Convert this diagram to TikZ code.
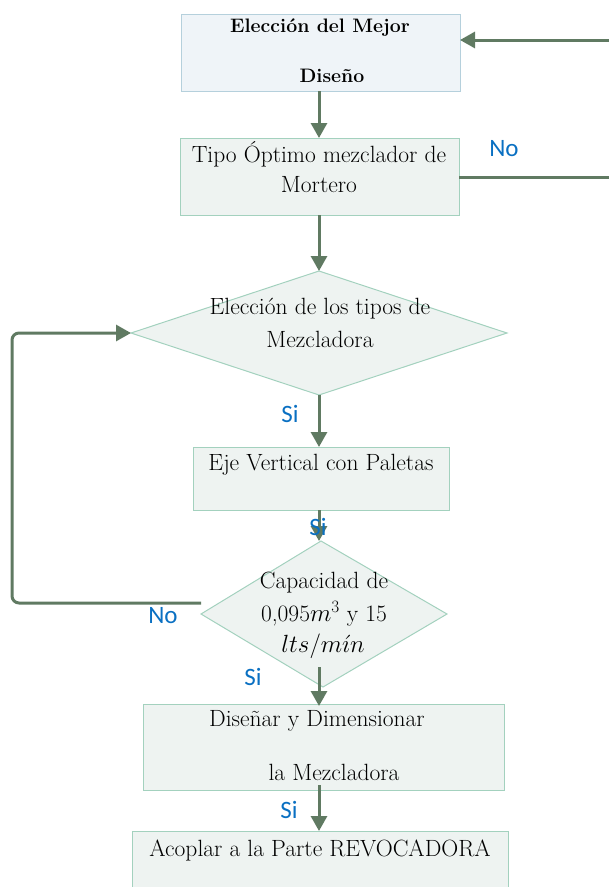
\documentclass[tikz,border=0pt]{standalone}
\usepackage{fontspec}
\newfontfamily\lblfont{Carlito}
\usetikzlibrary{arrows.meta}
\definecolor{conn}{HTML}{607A62}
\definecolor{gfill}{HTML}{EEF3F1}
\definecolor{gdraw}{HTML}{A3D1BE}
\definecolor{bfill}{HTML}{EFF4F8}
\definecolor{bdraw}{HTML}{B5D0DC}
\definecolor{lblblue}{HTML}{0A70C2}
\tikzset{
  boxg/.style={draw=gdraw, fill=gfill, line width=1pt},
  boxb/.style={draw=bdraw, fill=bfill, line width=1pt},
  txt/.style={inner sep=0pt, font=\fontsize{23.5}{27}\selectfont},
  btxt/.style={inner sep=0pt, font=\fontsize{19.5}{23}\selectfont\bfseries},
  lbl/.style={inner sep=0pt, text=lblblue, font=\fontsize{25}{28}\selectfont\lblfont},
  conn/.style={draw=conn, line width=3pt, -{Triangle[length=15pt,width=16pt]}},
}
\begin{document}
\begin{tikzpicture}[x=1pt,y=-1pt]
\useasboundingbox (0,0) rectangle (609,887);
\clip (0,0) rectangle (609,887);
% boxes
\draw[boxb] (181,14) rectangle (460,91);
\coordinate (b1t) at (319,91); \coordinate (b1r) at (460,40);
\draw[boxg] (180,138) rectangle (459,215);
\coordinate (b2t) at (319,138); \coordinate (b2b) at (319,215); \coordinate (b2r) at (459,177);
\draw[boxg] (131,333) -- (319,271) -- (507,333) -- (319,395) -- cycle;
\coordinate (d1t) at (319,271); \coordinate (d1b) at (319,395); \coordinate (d1l) at (131,333);
\draw[boxg] (193,447) rectangle (449,510);
\coordinate (b3t) at (319,447); \coordinate (b3b) at (319,510);
\draw[boxg] (201,614) -- (321,541) -- (447,614) -- (323,687) -- cycle;
\coordinate (d2t) at (319,541); \coordinate (d2l) at (201,603); \coordinate (d2s) at (319,667);
\draw[boxg] (143,704) rectangle (504,790);
\coordinate (b4t) at (319,706); \coordinate (b4s) at (319,785);
\draw[boxg] (132,831) rectangle (508,900);
\coordinate (b5t) at (319,831);
% texts
\node[btxt] (t1a) at (320,28) {Elección del Mejor};
\node[btxt] (t1b) at (332,76) {Diseño};
\node[txt] (t2a) at (319,154) {Tipo Óptimo mezclador de};
\node[txt] (t2b) at (319,185) {Mortero};
\node[txt] (t3a) at (320,309) {Elección de los tipos de};
\node[txt] (t3b) at (320,339) {Mezcladora};
\node[txt] (t4) at (321,465) {Eje Vertical con Paletas};
\node[txt] (t5a) at (324,583) {Capacidad de};
\node[txt] (t5b) at (324,614) {0,095$m^3$ y 15};
\node[txt] (t5c) at (323,646) {$lts/m\acute{\imath}n$};
\node[txt] (t6a) at (317,721) {Diseñar y Dimensionar};
\node[txt] (t6b) at (334,772) {la Mezcladora};
\node[txt] (t7) at (320,850) {Acoplar a la Parte REVOCADORA};
% connectors
\coordinate (rx1) at (620,177); \coordinate (rx2) at (620,40);
\coordinate (lx1) at (12,603); \coordinate (lx2) at (12,333);
\draw[conn] (b1t) -- (b2t);
\draw[conn] (b2b) -- (d1t);
\draw[conn] (d1b) -- (b3t);
\draw[conn] (b3b) -- (d2t);
\draw[conn] (d2s) -- (b4t);
\draw[conn] (b4s) -- (b5t);
\draw[conn] (b2r) -- (rx1) -- (rx2) -- (b1r);
\draw[conn, rounded corners=7pt] (d2l) -- (lx1) -- (lx2) -- (d1l);
% labels
\node[lbl] (n1) at (504,149) {No};
\node[lbl] (s1) at (290,414) {Si};
\node[lbl] (s2) at (318,527) {Si};
\node[lbl] (n2) at (163,616) {No};
\node[lbl] (s3) at (253,677) {Si};
\node[lbl] (s4) at (289,810) {Si};
\end{tikzpicture}
\end{document}
